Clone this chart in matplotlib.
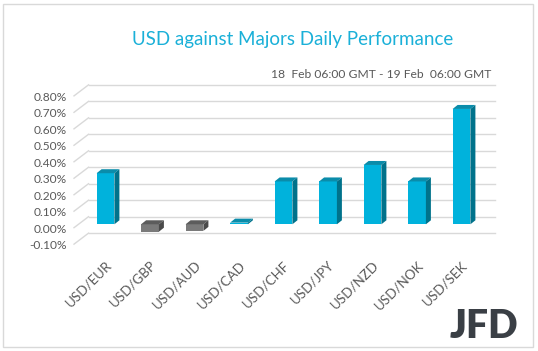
import matplotlib.pyplot as plt
from matplotlib.patches import Polygon, Rectangle

plt.rcParams['font.family'] = ['Lato', 'DejaVu Sans']

# data
pairs = ['USD/EUR', 'USD/GBP', 'USD/AUD', 'USD/CAD', 'USD/CHF',
         'USD/JPY', 'USD/NZD', 'USD/NOK', 'USD/SEK']
perf = [0.31, -0.045, -0.04, 0.01, 0.26, 0.26, 0.36, 0.26, 0.70]
yticks = [-0.1, 0.0, 0.1, 0.2, 0.3, 0.4, 0.5, 0.6, 0.7, 0.8]

W, H = 538, 351
fig = plt.figure(figsize=(W / 100, H / 100), dpi=100)

# axes placed so one category = 44.5 px and 1% = 164.8 px
x0, x1 = -0.6, 8.6
y0, y1 = -0.15, 0.9
left_px, right_px = 78.8, 488.2
top_px, bot_px = 76.0, 249.0
ax = fig.add_axes([left_px / W, 1 - bot_px / H,
                   (right_px - left_px) / W, (bot_px - top_px) / H])
ax.set_xlim(x0, x1)
ax.set_ylim(y0, y1)
for s in ax.spines.values():
    s.set_visible(False)

# fake 3d offsets (data units)
px_x = 44.5
px_y = 164.8
bar_dx, bar_dy = 5.0 / px_x, 4.0 / px_y
wall_dx, wall_dy = 9.7 / px_x, 7.6 / px_y
floor_dx, floor_dy = -4.8 / px_x, -3.4 / px_y
grid_end = (495 - 105.5) / px_x

grid_col = '#d9d9d9'
for t in yticks:
    ax.plot([floor_dx + x0 + 0.0, x0 + wall_dx], [t + floor_dy, t + wall_dy],
            color=grid_col, lw=1.0, clip_on=False, zorder=0)
    ax.plot([x0 + wall_dx, grid_end], [t + wall_dy, t + wall_dy],
            color=grid_col, lw=1.0, clip_on=False, zorder=0)
    ax.text(x0 - 11.8 / px_x, t + floor_dy - 0.008, '%.2f%%' % t, ha='right',
            va='center', fontsize=8.6, color='#595959')

xs = list(range(len(pairs)))
w = 0.4
front = ['#00B2DC' if v > 0 else '#7a7a7a' for v in perf]
top_c = ['#0A8CAA' if v > 0 else '#5c5c5c' for v in perf]
side_c = ['#00728B' if v > 0 else '#4a4a4a' for v in perf]

ax.bar(xs, perf, width=w, color=front, zorder=2)
for x, v, tc, sc in zip(xs, perf, top_c, side_c):
    top = max(v, 0)
    bot = min(v, 0)
    ax.add_patch(Polygon([(x - w / 2, top), (x + w / 2, top),
                          (x + w / 2 + bar_dx, top + bar_dy),
                          (x - w / 2 + bar_dx, top + bar_dy)],
                         closed=True, fc=tc, ec='none', zorder=2))
    ax.add_patch(Polygon([(x + w / 2, bot), (x + w / 2, top),
                          (x + w / 2 + bar_dx, top + bar_dy),
                          (x + w / 2 + bar_dx, bot + bar_dy)],
                         closed=True, fc=sc, ec='none', zorder=2))

ax.set_yticks([])
ax.set_xticks(xs)
ax.set_xticklabels(pairs, rotation=45, ha='right', rotation_mode='anchor',
                   fontsize=9.6, color='#595959')
ax.tick_params(axis='x', length=0, pad=7)

fig.text(293 / W, 1 - 40 / H, 'USD against Majors Daily Performance',
         ha='center', va='center', fontsize=13.5, color='#1AB0D8')
fig.text(491 / W, 1 - 74 / H, '18  Feb 06:00 GMT - 19 Feb  06:00 GMT',
         ha='right', va='center', fontsize=8.7, color='#595959')
fig.text(518 / W, 1 - 338 / H, 'JFD', ha='right', va='baseline',
         fontsize=28, fontweight='heavy', color='#3a3f45')

fig.add_artist(Rectangle((3 / W, 4 / H), 530 / W, 343 / H,
                         transform=fig.transFigure, fill=False,
                         ec='#d9d9d9', lw=1.0))

fig.savefig('out.png', dpi=100)
